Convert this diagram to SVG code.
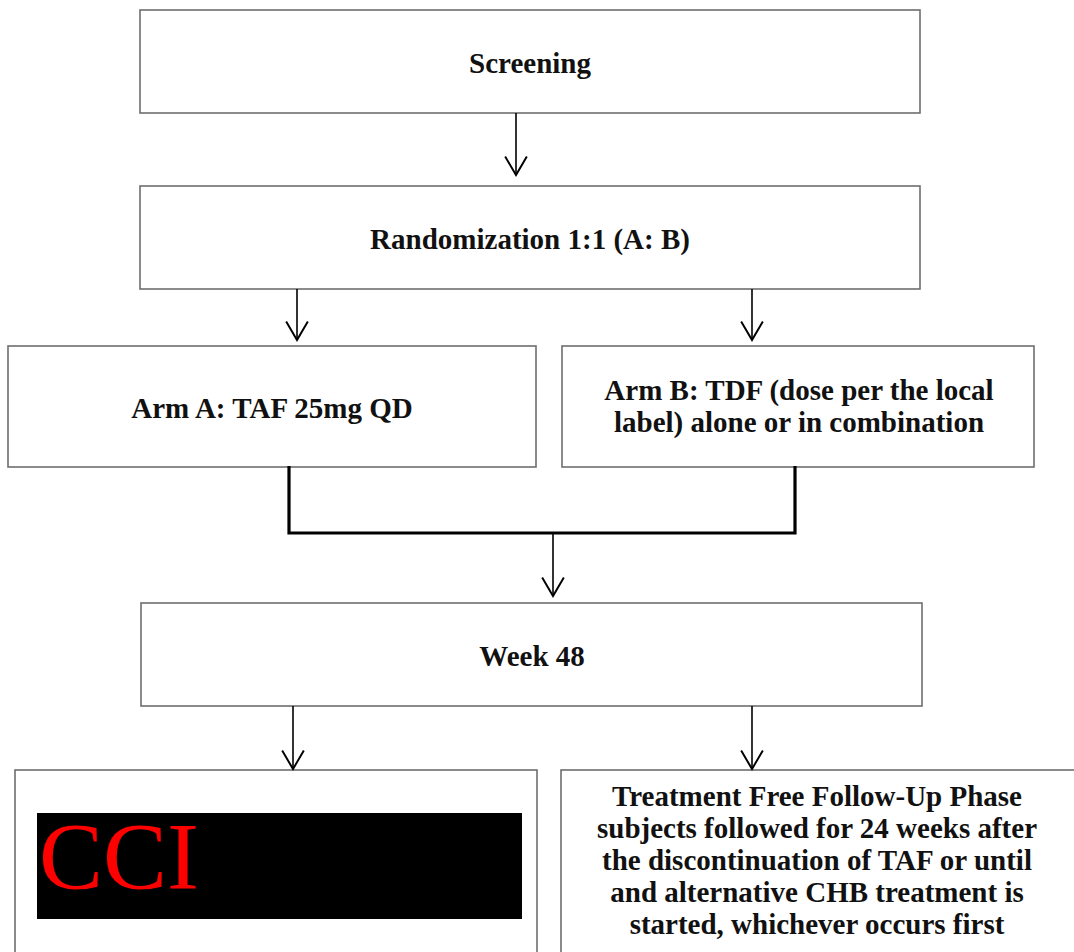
<svg xmlns="http://www.w3.org/2000/svg" width="1074" height="952" viewBox="0 0 1074 952">
  <defs>
    <style>
      .box { fill: #ffffff; stroke: #6e6e6e; stroke-width: 1.6; }
      .lbl { font-family: "Liberation Serif", "Times New Roman", serif; font-weight: bold; font-size: 29px; fill: #111111; text-anchor: middle; }
      .conn { fill: none; stroke: #000000; stroke-width: 1.6; }
      .thick { fill: none; stroke: #000000; stroke-width: 3.2; stroke-linejoin: miter; }
      .cci { font-family: "Liberation Serif", "Times New Roman", serif; font-size: 96px; fill: #ff0000; }
    </style>
    <marker id="vhead" markerUnits="userSpaceOnUse" markerWidth="22" markerHeight="26" viewBox="-18 -12 20 24" refX="0" refY="0" orient="auto" overflow="visible">
      <path d="M-17,-10 L0,0 L-17,10" fill="none" stroke="#000000" stroke-width="1.8"/>
    </marker>
  </defs>
  <rect x="0" y="0" width="1074" height="952" fill="#ffffff"/>

  <g id="screening">
    <rect class="box" x="140" y="10" width="780" height="103"/>
    <text class="lbl" x="530" y="73">Screening</text>
  </g>

  <g id="randomization">
    <rect class="box" x="140" y="186" width="780" height="103"/>
    <text class="lbl" x="530" y="249">Randomization 1:1 (A: B)</text>
  </g>

  <g id="arm-a">
    <rect class="box" x="8" y="346" width="528" height="121"/>
    <text class="lbl" x="272" y="418">Arm A: TAF 25mg QD</text>
  </g>

  <g id="arm-b">
    <rect class="box" x="562" y="346" width="472" height="121"/>
    <text class="lbl" x="799" y="400">Arm B: TDF (dose per the local</text>
    <text class="lbl" x="799" y="432">label) alone or in combination</text>
  </g>

  <g id="week48">
    <rect class="box" x="141" y="603" width="781" height="103"/>
    <text class="lbl" x="532" y="666">Week 48</text>
  </g>

  <g id="redacted">
    <rect class="box" x="15" y="770" width="522" height="200"/>
    <rect x="37" y="813" width="485" height="106" fill="#000000"/>
    <text class="cci" x="39" y="889">CCI</text>
  </g>

  <g id="follow-up">
    <rect class="box" x="561" y="770" width="530" height="200"/>
    <text class="lbl" x="817" y="806">Treatment Free Follow-Up Phase</text>
    <text class="lbl" x="817" y="838">subjects followed for 24 weeks after</text>
    <text class="lbl" x="817" y="870">the discontinuation of TAF or until</text>
    <text class="lbl" x="817" y="902">and alternative CHB treatment is</text>
    <text class="lbl" x="817" y="934">started, whichever occurs first</text>
  </g>

  <g id="connectors">
    <line class="conn" x1="516" y1="113" x2="516" y2="175" marker-end="url(#vhead)"/>
    <line class="conn" x1="297" y1="289" x2="297" y2="340" marker-end="url(#vhead)"/>
    <line class="conn" x1="752" y1="289" x2="752" y2="340" marker-end="url(#vhead)"/>
    <polyline class="thick" points="289,466 289,533 795,533 795,466"/>
    <line class="conn" x1="553" y1="533" x2="553" y2="596" marker-end="url(#vhead)"/>
    <line class="conn" x1="293" y1="706" x2="293" y2="769" marker-end="url(#vhead)"/>
    <line class="conn" x1="752" y1="706" x2="752" y2="769" marker-end="url(#vhead)"/>
  </g>
</svg>
